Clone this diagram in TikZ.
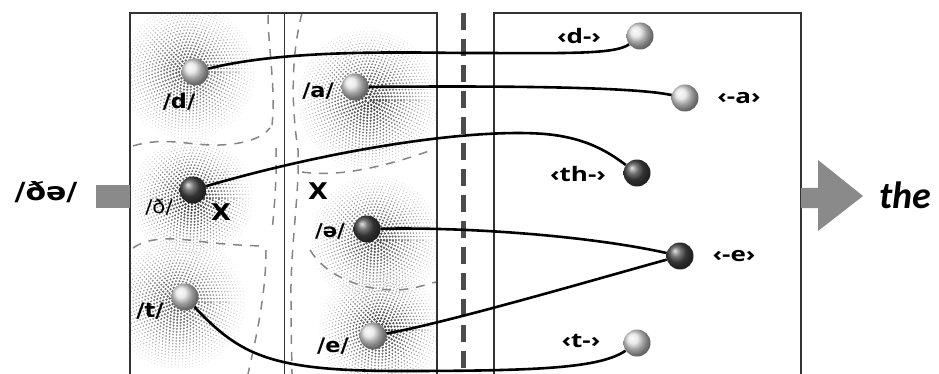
\documentclass[tikz,border=0pt]{standalone}
\usepackage{fontspec}
\setmainfont{DejaVu Sans}
\newfontfamily\carl{Carlito}
\newfontfamily\osans{Open Sans}
\definecolor{arrowgray}{HTML}{8A8A8A}
\definecolor{boxline}{HTML}{333333}
\definecolor{regiongray}{HTML}{858585}
\newcommand\myhalo[4]{%
  \foreach \r in {3,6,...,#3}{%
    \pgfmathsetmacro\lw{3.0-1.9*\r/#3}%
    \pgfmathsetmacro\sh{#4-(#4-12)*(\r/#3)^1.3}%
    \draw[black!\sh, line width=\lw pt, line cap=round, dash pattern=on 0pt off 3.5pt] (#1,#2) circle (\r pt);
  }%
}
\begin{document}
\begin{tikzpicture}[x=1pt,y=-1pt,
  lightball/.style={circle, minimum size=27pt, inner sep=0pt, shading=ball, ball color=gray!22},
  darkball/.style={circle, minimum size=27pt, inner sep=0pt, shading=ball, ball color=black!72},
  lbl/.style={font=\bfseries\fontsize{20}{22}\selectfont, inner sep=0pt, xscale=1.12},
  rlbl/.style={font=\osans\bfseries\fontsize{20}{22}\selectfont, inner sep=0pt, xscale=1.3},
  link/.style={line width=2.6pt, black},
  region/.style={regiongray, line width=1.5pt, dash pattern=on 9pt off 8pt},
  boxedge/.style={boxline, line width=1.6pt},
  fatarrow/.style={fill=arrowgray, draw=none}]
\useasboundingbox (0,0) rectangle (939,374);

% halos
\begin{scope}
\clip (130,13) rectangle (284,374);
\myhalo{188}{72}{66}{66}
\myhalo{192}{198}{60}{80}
\myhalo{178}{302}{66}{64}
\end{scope}
\begin{scope}
\clip (284,13) rectangle (437,374);
\myhalo{368}{100}{70}{74}
\myhalo{375}{240}{64}{70}
\myhalo{380}{330}{60}{78}
\end{scope}

% region boundaries
\draw[region] (268,15) .. controls (268,45) and (276,90) .. (272,125);
\draw[region] (133,146) .. controls (165,136) and (190,146) .. (220,145) .. controls (245,144) and (262,138) .. (270,128);
\draw[region] (276,148) .. controls (277,180) and (274,210) .. (272,232);
\draw[region] (133,248) .. controls (150,236) and (175,238) .. (205,242) .. controls (230,245) and (255,246) .. (266,246);
\draw[region] (266,250) .. controls (266,290) and (258,330) .. (248,374);
\draw[region] (302,13) .. controls (290,60) and (292,110) .. (298,150) .. controls (300,190) and (290,250) .. (291,300) .. controls (291,340) and (292,360) .. (292,374);
\draw[region] (302,172) .. controls (340,178) and (390,165) .. (432,150);
\draw[region] (310,250) .. controls (325,275) and (360,290) .. (395,290) .. controls (410,290) and (425,285) .. (436,282);

% boxes
\draw[boxedge] (130,374) -- (130,13) -- (437,13) -- (437,374);
\draw[boxline, line width=1pt] (284,13) -- (284,374);
\draw[boxedge] (494,374) -- (494,13) -- (801,13) -- (801,374);
\draw[black!70, line width=5pt, dash pattern=on 17pt off 9pt] (463,13) -- (463,374);

% arrows
\fill[fatarrow] (96,185) rectangle (130,208);
\fill[fatarrow] (801,188) -- (818,188) -- (818,160) -- (863,196) -- (818,231) -- (818,208) -- (801,208) -- cycle;

% texts outside
\node[inner sep=0pt, xscale=1.2, font=\bfseries\fontsize{25}{27}\selectfont] (in) at (46,192) {/ðə/};
\node[inner sep=0pt, font=\carl\bfseries\itshape\fontsize{38}{40}\selectfont] (out) at (905,195) {the};

% balls left
\node[lightball] (d) at (195,72) {};
\node[lightball] (a) at (355,87) {};
\node[darkball] (dh) at (193,190) {};
\node[darkball] (schwa) at (367,229) {};
\node[lightball] (t) at (185,297) {};
\node[lightball] (e) at (373,336) {};
% balls right
\node[lightball] (rd) at (640,36) {};
\node[lightball] (ra) at (685,98) {};
\node[darkball] (rth) at (637,173) {};
\node[darkball] (re) at (680,256) {};
\node[lightball] (rt) at (637,343) {};

% links
\draw[link] (d) .. controls (290,48) and (420,53) .. (470,53) .. controls (560,53) and (615,55) .. (rd);
\draw[link] (a) .. controls (480,86) and (630,86) .. (ra);
\draw[link] (dh) .. controls (330,150) and (470,128) .. (545,134) .. controls (590,138) and (612,155) .. (rth);
\draw[link] (schwa) .. controls (470,227) and (590,236) .. (re);
\draw[link] (e) .. controls (450,322) and (600,278) .. (re);
\draw[link] (t) .. controls (240,355) and (270,371) .. (400,371) .. controls (540,371) and (600,368) .. (rt);

% labels left
\node[lbl] (ld) at (179,102) {/d/};
\node[lbl] (la) at (318,91) {/a/};
\node[lbl, font=\fontsize{19}{21}\selectfont] (ldh) at (159,207) {/ð/};
\node[lbl, font=\bfseries\fontsize{23}{25}\selectfont] (x1) at (221,212) {X};
\node[lbl, font=\bfseries\fontsize{23}{25}\selectfont] (x2) at (318,191) {X};
\node[lbl, font=\bfseries\fontsize{19}{21}\selectfont] (lschwa) at (330,231) {/ə/};
\node[lbl] (lt) at (150,311) {/t/};
\node[lbl] (le) at (333,346) {/e/};
% labels right
\node[rlbl] (lrd) at (579,36) {‹d-›};
\node[rlbl] (lra) at (739,98) {‹-a›};
\node[rlbl] (lrth) at (578,174) {‹th-›};
\node[rlbl] (lre) at (734,256) {‹-e›};
\node[rlbl] (lrt) at (581,341) {‹t-›};
\end{tikzpicture}
\end{document}
